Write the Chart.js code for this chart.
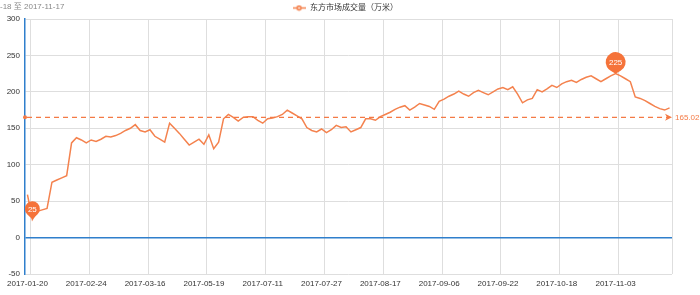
<!DOCTYPE html>
<html><head><meta charset="utf-8">
<script src="https://cdn.jsdelivr.net/npm/chart.js@4/dist/chart.umd.min.js"></script>
<style>
html,body{margin:0;padding:0;background:#fff;overflow:hidden}
#wrap{position:relative;width:700px;height:295px}
#range{position:absolute;left:0;top:2px;font:8px 'Liberation Sans',Arial,'Noto Sans CJK SC',sans-serif;color:#888;white-space:nowrap;line-height:9px}
canvas{display:block}
</style></head><body>
<div id="wrap"><canvas id="c" width="700" height="295"></canvas><div id="range"></div></div>
<script>
// ---- data ----
const rangeText = '-18 至 2017-11-17';
const seriesName = '东方市场成交量（万米）';
const tickDates = ['2017-01-20','2017-02-24','2017-03-16','2017-05-19','2017-07-11','2017-07-27','2017-08-17','2017-09-06','2017-09-22','2017-10-18','2017-11-03'];
const labelInterval = 12;
const volumeValues = [
  59,25,36,38,40,76,79,82,85,130,
  137,134,130,134,132,135,139,138,140,143,
  147,150,155,147,145,148,139,135,131,157,
  150,143,135,127,131,135,128,141,122,131,
  163,169,165,160,165,166,166,161,157,163,
  164,166,169,175,171,167,163,151,147,145,
  149,144,148,154,151,152,145,148,151,163,
  163,161,166,169,172,176,179,181,175,179,
  184,182,180,176,187,190,194,197,201,197,
  194,199,202,199,196,200,204,206,203,207,
  197,185,189,191,203,200,204,209,206,211,
  214,216,213,217,220,222,218,214,218,222,
  225,222,218,214,193,191,188,184,180,177,175,178
];
const averageValue = 165.02;
const yMin = -50, yMax = 300, yStep = 50;

// ---- styles ----
const FONT = "'Liberation Sans', Arial, 'Noto Sans CJK SC', sans-serif";
const lineColor = '#f4824e';
const pinColor = '#f5733a';
const markColor = '#f47a45';
const axisBlue = '#2f7fcc';
const gridColor = '#dedede';

document.getElementById('range').textContent = rangeText;

const categories = volumeValues.map((_, i) => i);

// legend icon: line with circle
const legendIcon = document.createElement('canvas');
legendIcon.width = 13; legendIcon.height = 7;
(function(){
  const g = legendIcon.getContext('2d');
  g.strokeStyle = lineColor; g.lineWidth = 1.5;
  g.beginPath(); g.moveTo(0, 3.5); g.lineTo(13, 3.5); g.stroke();
  g.fillStyle = lineColor;
  g.beginPath(); g.arc(6.5, 3.5, 2.7, 0, Math.PI * 2); g.fill();
  g.fillStyle = '#fff';
  g.beginPath(); g.arc(6.5, 3.5, 1.0, 0, Math.PI * 2); g.fill();
})();

const legendPlugin = {
  id: 'legendTweak',
  beforeInit(chart) {
    const lg = chart.legend;
    const fit = lg.fit;
    lg.fit = function () { fit.call(this); this.height = 19; };
    const draw = lg.draw;
    lg.draw = function () {
      const ctx = this.ctx;
      ctx.save(); ctx.translate(9, 0); draw.call(this); ctx.restore();
    };
  }
};

const vGridPlugin = {
  id: 'vGrid',
  beforeDraw(chart) {
    const { ctx, chartArea: a, scales: { x } } = chart;
    const half = (x.getPixelForValue(1) - x.getPixelForValue(0)) / 2;
    ctx.save();
    ctx.strokeStyle = gridColor; ctx.lineWidth = 1;
    const xs = [];
    for (let i = 0; i < categories.length; i += labelInterval) xs.push(x.getPixelForValue(i) + half);
    xs.push(a.right);
    xs.forEach(px => {
      const p = Math.round(px) + 0.5;
      ctx.beginPath(); ctx.moveTo(p, a.top); ctx.lineTo(p, a.bottom); ctx.stroke();
    });
    ctx.restore();
  }
};

function drawPin(ctx, x, tipY, r, d, text) {
  const cy = tipY - d;
  const th = Math.acos(Math.min(r / d, 1));
  ctx.beginPath();
  ctx.moveTo(x, tipY);
  ctx.lineTo(x + r * Math.sin(th), cy + r * Math.cos(th));
  ctx.arc(x, cy, r, Math.PI / 2 - th, Math.PI / 2 + th, true);
  ctx.closePath();
  ctx.fillStyle = pinColor;
  ctx.fill();
  ctx.fillStyle = '#fff';
  ctx.font = '8px ' + FONT;
  ctx.textAlign = 'center'; ctx.textBaseline = 'middle';
  ctx.fillText(text, x, cy + 0.5);
}

const marksPlugin = {
  id: 'marks',
  afterDatasetsDraw(chart) {
    const { ctx, chartArea: a, scales: { y } } = chart;
    const py = y.getPixelForValue(averageValue);
    ctx.save();
    ctx.strokeStyle = markColor; ctx.lineWidth = 1.2; ctx.setLineDash([5, 4]);
    ctx.beginPath(); ctx.moveTo(a.left + 2, py); ctx.lineTo(a.right - 4, py); ctx.stroke();
    ctx.setLineDash([]);
    ctx.fillStyle = markColor;
    ctx.beginPath(); ctx.arc(a.left, py, 2, 0, Math.PI * 2); ctx.fill();
    ctx.beginPath();
    ctx.moveTo(a.right, py); ctx.lineTo(a.right - 7, py - 3.5); ctx.lineTo(a.right - 5, py); ctx.lineTo(a.right - 7, py + 3.5);
    ctx.closePath(); ctx.fill();
    ctx.font = '8px ' + FONT; ctx.textAlign = 'left'; ctx.textBaseline = 'middle';
    ctx.fillText(averageValue.toFixed(2), a.right + 3, py + 0.5);

    const meta = chart.getDatasetMeta(0);
    let mi = 0, ma = 0;
    volumeValues.forEach((v, i) => { if (v < volumeValues[mi]) mi = i; if (v > volumeValues[ma]) ma = i; });
    const pMax = meta.data[ma], pMin = meta.data[mi];
    drawPin(ctx, pMax.x, pMax.y, 10, 11.5, String(volumeValues[ma]));
    drawPin(ctx, pMin.x, pMin.y, 7.5, 10.5, String(volumeValues[mi]));
    ctx.restore();
  }
};

Chart.defaults.font.family = FONT;

new Chart(document.getElementById('c'), {
  type: 'line',
  data: {
    labels: categories,
    datasets: [{
      label: seriesName,
      data: volumeValues,
      borderColor: lineColor,
      backgroundColor: lineColor,
      borderWidth: 1.5,
      pointRadius: 0,
      pointHoverRadius: 0,
      tension: 0,
      fill: false
    }]
  },
  options: {
    responsive: false,
    animation: false,
    devicePixelRatio: 1,
    layout: { padding: { left: 0, right: 28, top: 0, bottom: 0 } },
    plugins: {
      tooltip: { enabled: false },
      legend: {
        position: 'top',
        align: 'center',
        labels: {
          usePointStyle: true,
          pointStyleWidth: 14,
          padding: 4,
          color: '#333',
          font: { size: 8 },
          generateLabels: () => [{
            text: seriesName, pointStyle: legendIcon, fillStyle: lineColor,
            strokeStyle: lineColor, lineWidth: 0, hidden: false, datasetIndex: 0, fontColor: '#333'
          }]
        }
      }
    },
    scales: {
      x: {
        type: 'category',
        offset: true,
        grid: { display: false, drawTicks: false },
        border: { display: false },
        ticks: {
          autoSkip: false, maxRotation: 0, minRotation: 0, padding: 5,
          color: '#333', font: { size: 8 },
          callback: (v, i) => (i % labelInterval === 0 ? tickDates[i / labelInterval] : '')
        },
        afterFit(s) { s.height = 21; }
      },
      y: {
        min: yMin, max: yMax,
        ticks: { stepSize: yStep, padding: 5, color: '#333', font: { size: 8 } },
        grid: {
          drawTicks: false,
          color: c => (c.tick && c.tick.value === 0 ? axisBlue : gridColor),
          lineWidth: c => (c.tick && c.tick.value === 0 ? 1.5 : 1)
        },
        border: { display: true, color: axisBlue, width: 1.5 },
        afterFit(s) { s.width = 25; }
      }
    }
  },
  plugins: [legendPlugin, vGridPlugin, marksPlugin]
});
</script>
</body></html>
